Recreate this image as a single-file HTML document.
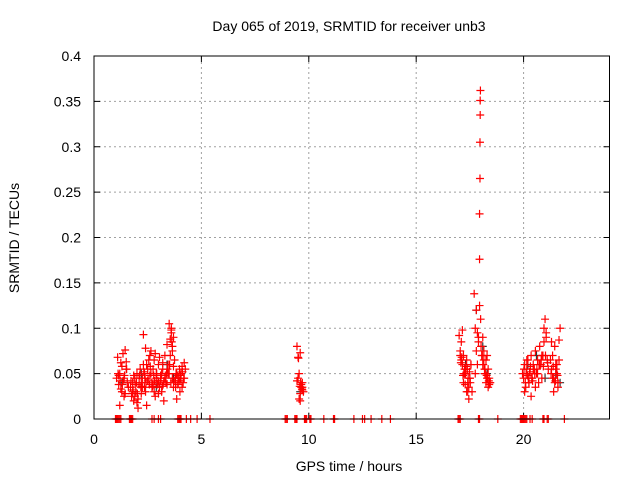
<!DOCTYPE html>
<html><head><meta charset="utf-8"><style>
body{margin:0;background:#fff;}
svg{display:block;font-family:"Liberation Sans",sans-serif;}
</style></head><body>
<svg id="chart" width="640" height="480" viewBox="0 0 640 480">
<rect width="640" height="480" fill="#fff"/>
<text x="349" y="31" font-size="14" text-anchor="middle">Day 065 of 2019, SRMTID for receiver unb3</text>
<g id="grid"></g>
<g id="ticks"></g>
<g id="marks"></g>
<rect x="94" y="56" width="515.5" height="363" fill="none" stroke="#000" stroke-width="1"/>
<text x="349" y="471" font-size="14" text-anchor="middle">GPS time / hours</text>
<text x="19" y="238" font-size="14" text-anchor="middle" transform="rotate(-90 19 238)">SRMTID / TECUs</text>
</svg>
<script>
const xTicks=[0,5,10,15,20];
const yTicks=[0,0.05,0.1,0.15,0.2,0.25,0.3,0.35,0.4];
const yTickLabels=["0","0.05","0.1","0.15","0.2","0.25","0.3","0.35","0.4"];
const redX=[1.05,1.1,1.15,1.2,1.25,1.3,1.35,1.4,1.45,1.5,1.55,1.6,1.2,1.3,1.4,1.5,1.15,1.35,1.45,1.25,
1.7,1.75,1.8,1.85,1.9,1.95,2.0,2.05,2.1,2.15,2.2,2.25,2.3,2.35,2.4,2.45,2.5,2.55,2.6,2.65,2.7,2.75,2.8,2.85,2.9,2.95,3.0,3.05,3.1,3.15,3.2,3.25,3.3,3.35,3.4,3.45,3.5,3.55,3.6,3.65,3.7,3.75,3.8,3.85,3.9,3.95,4.0,4.05,4.1,4.15,4.2,4.25,
1.8,1.9,2.0,2.1,2.2,2.3,2.4,2.5,2.6,2.7,2.8,2.9,3.0,3.1,3.2,3.3,3.4,3.5,3.6,3.7,3.8,3.9,4.0,4.1,4.2,
1.85,2.05,2.25,2.45,2.65,2.85,3.05,3.25,3.45,3.65,3.85,4.05,2.35,2.75,3.15,3.55,3.6,3.7,3.65,
1.72,1.82,1.92,2.02,2.12,2.22,2.32,2.42,2.52,2.62,2.72,2.82,2.92,3.02,3.12,3.22,3.32,3.42,3.52,3.62,3.72,3.82,3.92,4.02,4.12,
1.78,1.98,2.18,2.38,2.58,2.78,2.98,3.18,3.38,3.58,3.78,3.98,4.18,1.12,1.22,1.32,1.42,1.52,
9.45,9.5,9.55,9.6,9.65,9.7,9.75,9.5,9.6,9.7,9.55,9.65,9.45,9.6,9.7,9.58,9.68,9.62,9.52,
17.0,17.05,17.1,17.15,17.2,17.25,17.3,17.35,17.4,17.45,17.5,17.55,17.6,17.1,17.2,17.3,17.4,17.5,17.15,17.35,17.45,17.25,17.05,17.55,
17.12,17.22,17.32,17.42,17.52,17.08,17.18,17.28,17.38,17.48,
17.7,17.75,17.8,17.85,17.9,17.95,18.0,18.05,18.1,18.15,18.2,18.25,18.3,18.35,18.4,18.45,17.8,17.9,18.1,18.2,18.3,18.4,18.15,18.25,18.35,17.75,17.85,
18.02,18.12,18.22,18.32,18.42,18.08,18.18,18.28,18.38,
17.95,17.95,17.97,17.97,17.98,17.98,17.99,
19.95,20.0,20.05,20.1,20.15,20.2,20.25,20.3,20.35,20.4,20.45,20.5,20.55,20.6,20.65,20.7,20.75,20.8,20.85,20.9,20.95,21.0,21.05,21.1,21.15,
20.05,20.15,20.25,20.35,20.45,20.55,20.65,20.75,20.85,20.95,21.05,
20.02,20.12,20.22,20.32,20.42,20.52,20.62,20.72,20.82,20.92,21.02,21.12,20.08,20.18,20.28,20.38,20.48,
21.25,21.3,21.35,21.4,21.45,21.5,21.55,21.6,21.65,21.7,21.3,21.4,21.5,21.6,21.45,21.35,21.55,21.65,21.28,21.38,21.48,21.58];
const redY=[0.045,0.068,0.038,0.05,0.062,0.03,0.072,0.045,0.028,0.055,0.04,0.035,0.015,0.058,0.025,0.063,0.048,0.042,0.076,0.033,
0.035,0.025,0.04,0.02,0.045,0.03,0.05,0.022,0.038,0.055,0.028,0.045,0.093,0.035,0.078,0.06,0.042,0.065,0.07,0.05,0.04,0.055,0.03,0.072,0.045,0.038,0.06,0.035,0.048,0.03,0.055,0.042,0.07,0.04,0.082,0.06,0.105,0.088,0.098,0.045,0.035,0.065,0.04,0.05,0.038,0.045,0.03,0.05,0.058,0.04,0.062,0.055,
0.03,0.025,0.018,0.045,0.04,0.06,0.03,0.055,0.048,0.035,0.065,0.05,0.028,0.042,0.062,0.045,0.038,0.05,0.095,0.058,0.035,0.048,0.042,0.035,0.045,
0.048,0.012,0.035,0.015,0.075,0.025,0.068,0.02,0.05,0.08,0.022,0.045,0.05,0.038,0.05,0.07,0.1,0.09,0.075,
0.042,0.032,0.038,0.028,0.048,0.036,0.052,0.04,0.044,0.058,0.036,0.042,0.05,0.04,0.045,0.038,0.048,0.055,0.06,0.085,0.042,0.05,0.04,0.048,0.052,
0.028,0.04,0.035,0.045,0.038,0.048,0.042,0.036,0.05,0.04,0.045,0.055,0.045,0.05,0.042,0.038,0.048,0.055,
0.08,0.068,0.05,0.073,0.035,0.04,0.03,0.045,0.028,0.035,0.022,0.038,0.042,0.02,0.032,0.036,0.033,0.04,0.067,
0.092,0.075,0.065,0.06,0.07,0.055,0.05,0.065,0.04,0.035,0.045,0.06,0.03,0.085,0.04,0.055,0.03,0.045,0.098,0.03,0.022,0.05,0.07,0.06,
0.068,0.05,0.058,0.045,0.04,0.062,0.048,0.038,0.055,0.052,
0.138,0.1,0.075,0.06,0.09,0.125,0.11,0.07,0.09,0.065,0.05,0.04,0.07,0.055,0.045,0.04,0.12,0.085,0.06,0.055,0.045,0.038,0.075,0.065,0.035,0.05,0.095,
0.08,0.06,0.05,0.045,0.04,0.07,0.055,0.048,0.042,
0.176,0.226,0.265,0.305,0.335,0.351,0.362,
0.05,0.045,0.06,0.035,0.055,0.065,0.04,0.05,0.07,0.045,0.06,0.055,0.075,0.05,0.065,0.04,0.08,0.06,0.045,0.07,0.1,0.11,0.09,0.065,0.055,
0.03,0.065,0.04,0.025,0.055,0.035,0.05,0.06,0.07,0.085,0.095,
0.055,0.05,0.045,0.058,0.042,0.05,0.055,0.06,0.065,0.058,0.07,0.062,0.04,0.048,0.052,0.045,0.055,
0.065,0.055,0.07,0.045,0.04,0.06,0.05,0.035,0.065,0.1,0.085,0.03,0.055,0.04,0.08,0.045,0.06,0.087,0.05,0.058,0.042,0.048];
const blackX=[1.3,2.2,2.9,3.4,3.7,9.6,17.3,17.8,18.1,18.3,20.2,20.6,21.0,21.5,21.7];
const blackY=[0.04,0.05,0.035,0.06,0.045,0.03,0.06,0.12,0.08,0.05,0.06,0.07,0.045,0.05,0.04];
const zeroX=[1.0,1.05,1.1,1.15,1.2,1.25,1.65,1.7,1.75,1.8,2.7,2.8,3.0,3.1,3.9,3.95,4.0,4.05,4.3,4.5,4.8,5.4,8.9,8.95,9.0,9.35,9.4,9.45,9.8,9.85,9.9,10.05,10.1,10.7,11.15,11.2,12.1,12.5,12.6,12.9,13.4,13.8,16.95,17.0,17.05,17.9,17.95,18.8,19.85,19.9,19.95,20.0,20.05,20.1,20.15,20.3,20.4,20.9,20.95,21.1,21.15,21.9];
const NS="http://www.w3.org/2000/svg";
const X0=94,X1=609.5,Y0=419,Y1=56;
function sx(v){return X0+(v/24)*(X1-X0);}
function sy(v){return Y0-(v/0.4)*(Y0-Y1);}
function mk(tag,attrs,parent){const e=document.createElementNS(NS,tag);for(const k in attrs)e.setAttribute(k,attrs[k]);parent.appendChild(e);return e;}
const grid=document.getElementById('grid'),ticks=document.getElementById('ticks'),marks=document.getElementById('marks');
xTicks.forEach(t=>{const x=sx(t);
 if(t>0){const g=mk('line',{x1:x,x2:x,y1:Y0,y2:Y1,stroke:'#a0a0a0','stroke-dasharray':'2,3'},grid);
 
 }
 mk('line',{x1:x,x2:x,y1:Y0,y2:Y0-6,stroke:'#000'},ticks);
 mk('line',{x1:x,x2:x,y1:Y1,y2:Y1+6,stroke:'#000'},ticks);
 const l=mk('text',{x:x,y:444,'font-size':14,'text-anchor':'middle'},ticks);l.textContent=t;
 
 });
yTicks.forEach((t,i)=>{const y=sy(t);
 if(t>0&&t<0.4){const g=mk('line',{x1:X0,x2:X1,y1:y,y2:y,stroke:'#a0a0a0','stroke-dasharray':'2,3'},grid);
 
 }
 mk('line',{x1:X0,x2:X0+6,y1:y,y2:y,stroke:'#000'},ticks);
 mk('line',{x1:X1,x2:X1-6,y1:y,y2:y,stroke:'#000'},ticks);
 const l=mk('text',{x:81,y:y+5,'font-size':14,'text-anchor':'end'},ticks);l.textContent=yTickLabels[i];
 
 });
function plus(x,y,c,name){const p=mk('path',{d:`M${x-4},${y}h8M${x},${y-4}v8`,stroke:c,'stroke-width':1.2,fill:'none'},marks);
 
 }
blackX.forEach((v,i)=>plus(sx(v),sy(blackY[i]),'#333','black-point'));
redX.forEach((v,i)=>plus(sx(v),sy(redY[i]),'#ff0000','red-point'));
zeroX.forEach(v=>plus(sx(v),Y0,'#ff0000','zero-point'));
</script>
</body></html>
